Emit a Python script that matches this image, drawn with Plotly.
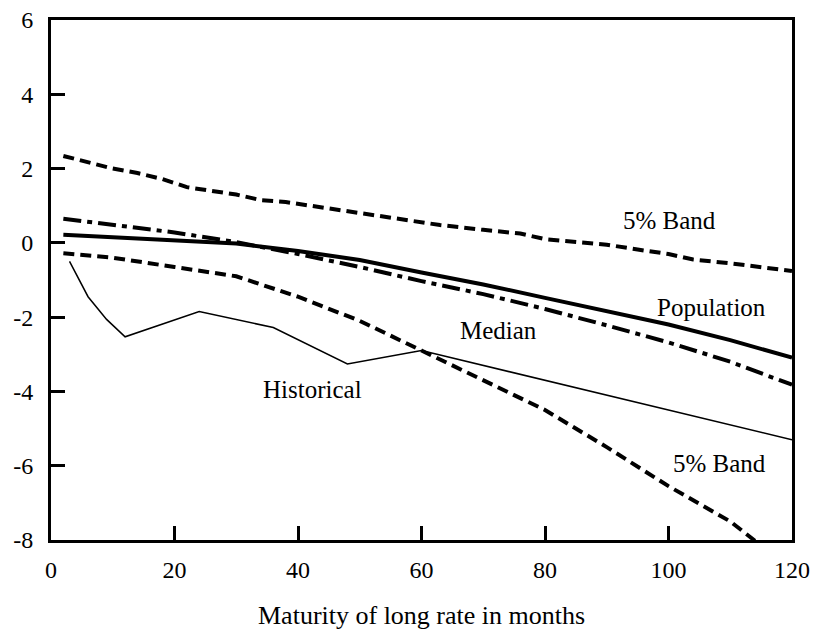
import plotly.graph_objects as go

# Data
upper_x = [2, 6, 10, 14, 18, 22, 26, 30, 34, 38, 42, 48, 54, 60, 63, 70, 76, 80, 86, 90, 95, 100, 104, 110, 120]
upper_y = [2.34, 2.18, 2.0, 1.88, 1.72, 1.5, 1.4, 1.3, 1.15, 1.1, 1.0, 0.85, 0.72, 0.56, 0.48, 0.35, 0.25, 0.1, 0.02, -0.05, -0.18, -0.3, -0.45, -0.55, -0.76]

pop_x = [2, 10, 20, 30, 40, 50, 60, 70, 80, 90, 100, 110, 120]
pop_y = [0.22, 0.15, 0.07, -0.02, -0.22, -0.46, -0.8, -1.12, -1.48, -1.83, -2.2, -2.62, -3.09]

med_x = [2, 10, 20, 30, 40, 50, 60, 70, 80, 90, 100, 110, 120]
med_y = [0.65, 0.48, 0.28, 0.02, -0.3, -0.65, -1.03, -1.38, -1.78, -2.22, -2.68, -3.2, -3.82]

lower_x = [2, 10, 20, 30, 40, 50, 60, 70, 80, 90, 100, 110, 114]
lower_y = [-0.28, -0.4, -0.65, -0.9, -1.45, -2.1, -2.9, -3.7, -4.5, -5.5, -6.55, -7.5, -8.02]

hist_x = [3, 6, 9, 12, 24, 36, 48, 60, 120]
hist_y = [-0.5, -1.45, -2.06, -2.53, -1.85, -2.28, -3.26, -2.9, -5.3]

x_ticks = [0, 20, 40, 60, 80, 100, 120]
y_ticks = [-8, -6, -4, -2, 0, 2, 4, 6]

labels = ["5% Band", "Population", "Median", "Historical", "5% Band"]
label_x = [100.2, 106.9, 72.4, 42.3, 108.2]
label_y = [0.59, -1.75, -2.35, -3.96, -5.95]

x_title = "Maturity of long rate in months"

FONT = "Liberation Serif"

fig = go.Figure()
fig.add_trace(go.Scatter(x=upper_x, y=upper_y, mode="lines",
                         line=dict(color="black", width=4, dash="11px,6px")))
fig.add_trace(go.Scatter(x=lower_x, y=lower_y, mode="lines",
                         line=dict(color="black", width=4, dash="11px,6px")))
fig.add_trace(go.Scatter(x=med_x, y=med_y, mode="lines",
                         line=dict(color="black", width=4, dash="18px,6px,5px,6px")))
fig.add_trace(go.Scatter(x=pop_x, y=pop_y, mode="lines",
                         line=dict(color="black", width=4)))
fig.add_trace(go.Scatter(x=hist_x, y=hist_y, mode="lines",
                         line=dict(color="black", width=1.5)))

for t, lx, ly in zip(labels, label_x, label_y):
    fig.add_annotation(x=lx, y=ly, text=t, showarrow=False,
                       font=dict(family=FONT, size=25, color="black"),
                       xanchor="center", yanchor="middle")

# axis title (placed as paper annotation so it can sit near the bottom edge)
fig.add_annotation(x=0.5, y=-0.145, xref="paper", yref="paper", text=x_title,
                   showarrow=False, xanchor="center", yanchor="middle",
                   font=dict(family=FONT, size=26, color="black"))

fig.update_layout(
    width=814, height=630,
    margin=dict(l=51, r=22, t=20, b=90),
    paper_bgcolor="white", plot_bgcolor="white",
    showlegend=False,
    font=dict(family=FONT, size=24, color="black"),
)
fig.update_xaxes(range=[0, 120], tickvals=x_ticks, ticktext=[str(v) for v in x_ticks],
                 showgrid=False, zeroline=False, showline=True, mirror=True,
                 linecolor="black", linewidth=3, ticks="inside", ticklen=14,
                 tickwidth=2.5, tickcolor="black", ticklabelstandoff=6,
                 automargin=False,
                 tickfont=dict(family=FONT, size=24, color="black"))
fig.update_yaxes(range=[-8, 6], tickvals=y_ticks, ticktext=[str(v) for v in y_ticks],
                 showgrid=False, zeroline=False, showline=True, mirror=True,
                 linecolor="black", linewidth=3, ticks="inside", ticklen=14,
                 tickwidth=2.5, tickcolor="black", ticklabelstandoff=10,
                 automargin=False,
                 tickfont=dict(family=FONT, size=24, color="black"))

fig.write_html("out.html")
